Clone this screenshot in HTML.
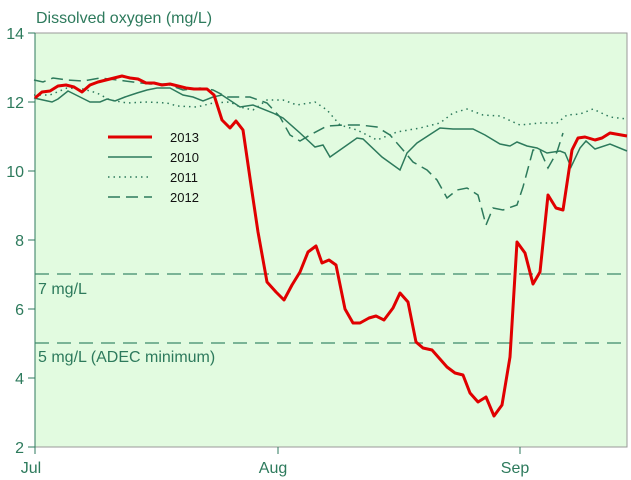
<!DOCTYPE html>
<html><head><style>body{margin:0;background:#fff}svg{display:block}</style></head>
<body>
<svg width="631" height="480" xmlns="http://www.w3.org/2000/svg" font-family="Liberation Sans, Arial, sans-serif">
<rect x="35" y="33" width="592" height="414" fill="#e2fbe0" stroke="#999" stroke-width="1"/>
<g stroke="#2d7a5c" stroke-width="1" fill="none">
<line x1="28" y1="33" x2="35" y2="33"/><line x1="28" y1="102" x2="35" y2="102"/><line x1="28" y1="171" x2="35" y2="171"/><line x1="28" y1="240" x2="35" y2="240"/><line x1="28" y1="309" x2="35" y2="309"/><line x1="28" y1="378" x2="35" y2="378"/><line x1="28" y1="447" x2="35" y2="447"/>
<line x1="35" y1="447" x2="35" y2="454"/><line x1="278" y1="447" x2="278" y2="454"/><line x1="520" y1="447" x2="520" y2="454"/>
<line x1="35" y1="33" x2="35" y2="447"/>
</g>
<g fill="#2d7a5c" font-size="16">
<text x="36" y="23">Dissolved oxygen (mg/L)</text>
<text x="24" y="39" text-anchor="end">14</text><text x="24" y="108" text-anchor="end">12</text><text x="24" y="177" text-anchor="end">10</text><text x="24" y="246" text-anchor="end">8</text><text x="24" y="315" text-anchor="end">6</text><text x="24" y="384" text-anchor="end">4</text><text x="24" y="453" text-anchor="end">2</text>
<text x="31" y="473" text-anchor="middle">Jul</text><text x="273" y="473" text-anchor="middle">Aug</text><text x="515" y="473" text-anchor="middle">Sep</text>
<text x="38" y="294">7 mg/L</text><text x="38" y="362">5 mg/L (ADEC minimum)</text>
</g>
<g stroke="#3d8a6a" stroke-width="1.3" stroke-dasharray="14,8" fill="none">
<line x1="35" y1="274" x2="627" y2="274"/><line x1="35" y1="343" x2="627" y2="343"/>
</g>
<g fill="none" stroke="#2d7a5c" stroke-width="1.5">
<polyline stroke-dasharray="1.5,4" points="34,95 50,95 67,88 83,89 97,93 110,100 127,103 147,102 167,103 177,106 197,107 213,103 230,102 240,107 253,110 267,100 283,100 297,105 315,102 327,110 340,125 357,130 377,140 397,132 420,128 440,123 453,113 467,109 483,115 500,116 520,125 540,123 557,123 567,115 580,114 593,109 610,117 627,119"/>
<polyline stroke-dasharray="12,6" points="34,80 43,82 53,78 67,80 83,81 100,78 117,80 133,82 150,84 167,84 183,90 200,88 213,90 227,97 250,97 267,103 280,117 290,135 300,141 310,135 327,126 343,125 360,125 377,127 390,135 403,150 413,162 427,170 437,180 447,198 457,190 467,188 478,195 486,225 493,208 503,210 517,205 523,187 533,150 540,150 548,168 557,152 563,133"/>
<polyline points="34,98 43,100 52,102 58,99 68,91 80,97 90,102 100,102 107,99 115,101 125,97 137,93 147,90 157,88 170,88 183,95 193,97 203,101 213,97 222,95 240,107 253,105 273,113 283,118 300,133 315,147 323,145 330,157 357,138 363,139 382,157 400,170 407,153 417,143 440,128 453,129 473,129 485,135 500,144 510,146 517,142 527,146 537,148 547,153 560,151 565,153 571,167 580,148 586,141 595,149 610,144 627,151"/>
</g>
<polyline fill="none" stroke="#e00000" stroke-width="3" stroke-linejoin="round" points="35,98 42,92 50,91 58,86 66,85 74,87 82,92 90,85 98,82 106,80 114,78 122,76 130,78 138,79 146,83 154,83 162,85 170,84 178,86 186,88 194,89 207,89 214,95 222,120 230,128 236,121 243,130 251,185 258,232 267,282 276,292 284,300 292,285 300,272 308,252 316,246 322,263 329,260 336,265 345,309 353,323 360,323 369,318 376,316 384,320 393,308 400,293 408,302 416,342 423,348 432,350 447,367 455,373 463,375 470,393 478,402 486,397 494,416 502,405 510,357 517,242 525,253 533,284 540,272 548,195 556,208 563,210 572,150 578,138 585,137 595,140 602,138 610,133 627,136"/>
<g fill="none">
<line x1="108" y1="137" x2="152" y2="137" stroke="#e00000" stroke-width="3"/>
<line x1="108" y1="157" x2="152" y2="157" stroke="#2d7a5c" stroke-width="1.5"/>
<line x1="108" y1="177" x2="152" y2="177" stroke="#2d7a5c" stroke-width="1.5" stroke-dasharray="1.5,4"/>
<line x1="108" y1="197" x2="152" y2="197" stroke="#2d7a5c" stroke-width="1.5" stroke-dasharray="12,6"/>
</g>
<g font-size="13" fill="#111">
<text x="170" y="142">2013</text><text x="170" y="162">2010</text><text x="170" y="182">2011</text><text x="170" y="202">2012</text>
</g>
</svg>
</body></html>
